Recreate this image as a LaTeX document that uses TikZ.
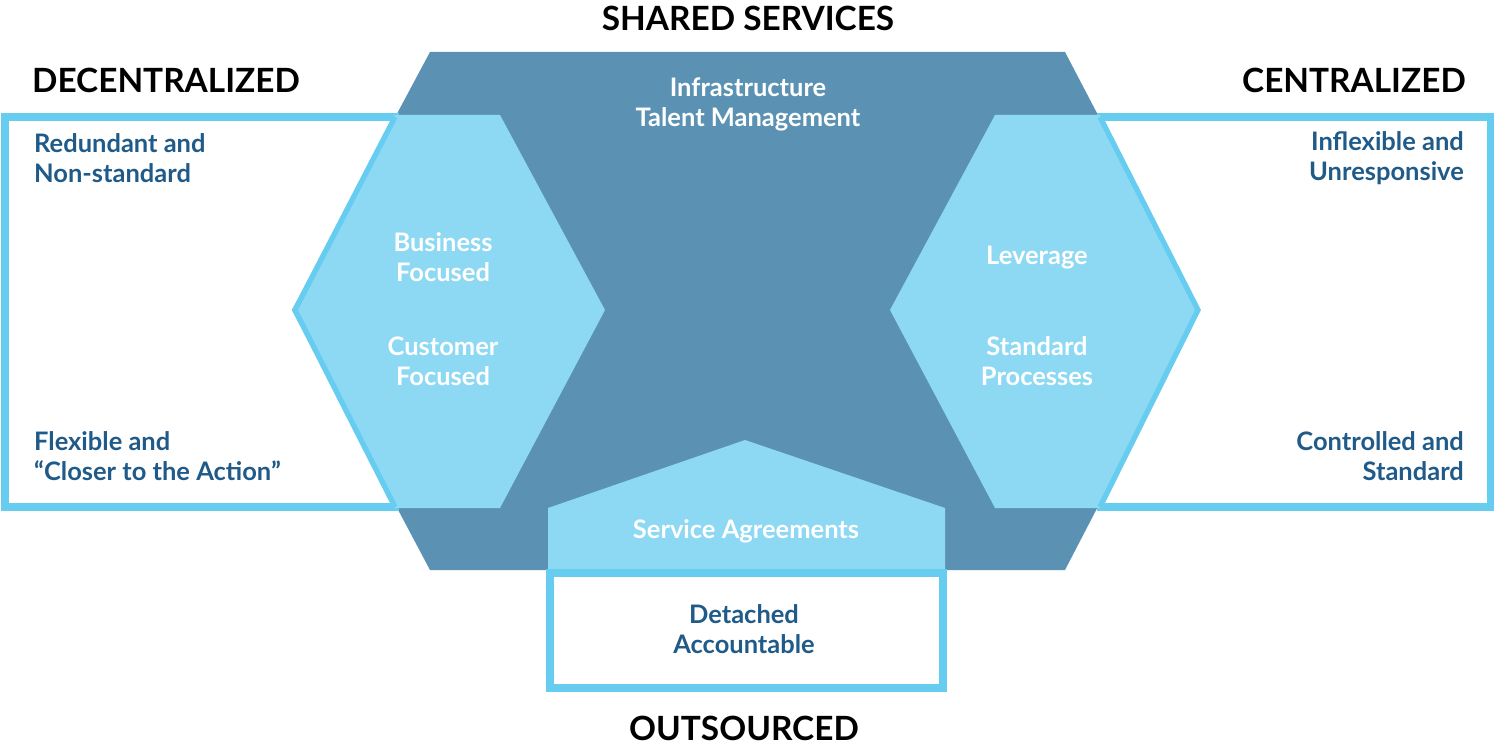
\documentclass[tikz,border=0pt]{standalone}
\usepackage{fontspec}
\setmainfont{Lato}
\definecolor{oscuro}{HTML}{5B92B3}
\definecolor{claro}{HTML}{8DD9F3}
\definecolor{borde}{HTML}{66CCF0}
\definecolor{texto}{HTML}{1F5A88}
\usetikzlibrary{positioning}
\begin{document}
\begin{tikzpicture}[x=0.02cm,y=-0.02cm,
    titulo/.style={font=\fontsize{19}{22}\selectfont\bfseries, text=black},
    blanco/.style={font=\fontsize{14.5}{17}\selectfont\bfseries, text=white, align=center},
    azul/.style={font=\fontsize{14.5}{17}\selectfont\bfseries, text=texto}]
    \useasboundingbox (0,0) rectangle (1494,753);
    % Hexagono central y cajas laterales
    \fill[oscuro] (430,52) -- (1065,52) -- (1200,310) -- (1065,570) -- (430,570) -- (292,310) -- cycle;
    \draw[borde, line width=4pt] (5,117) rectangle (395,507);
    \draw[borde, line width=4pt] (1100,117) rectangle (1490,507);
    \fill[claro] (395,115) -- (500,115) -- (605,310) -- (500,508) -- (395,508) -- (292,310) -- cycle;
    \fill[claro] (995,115) -- (1100,115) -- (1200,310) -- (1100,508) -- (995,508) -- (890,310) -- cycle;
    \draw[borde, line width=3pt] (395,117) -- (295,310) -- (395,507);
    \draw[borde, line width=3pt] (1100,117) -- (1198,310) -- (1100,507);
    % Bloque inferior
    \fill[claro] (548,508) -- (745,440) -- (945,508) -- (945,572) -- (548,572) -- cycle;
    \draw[borde, line width=4pt, fill=white] (550,573) rectangle (943,688);
    % Textos
    \node[titulo] (shared) at (748,18) {SHARED SERVICES};
    \node[titulo] (decen) at (166,80) {DECENTRALIZED};
    \node[titulo] (cen) at (1354,80) {CENTRALIZED};
    \node[titulo] (out) at (744,728) {OUTSOURCED};
    \node[blanco] (infra) at (748,104) {Infrastructure\\Talent Management};
    \node[blanco] (business) at (443,257) {Business\\Focused};
    \node[blanco] (customer) at (443,361) {Customer\\Focused};
    \node[blanco] (leverage) at (1037,258) {Leverage};
    \node[blanco] (standard) at (1037,361) {Standard\\Processes};
    \node[blanco] (agree) at (746,531) {Service Agreements};
    \node[azul, align=center] (detached) at (744,629) {Detached\\Accountable};
    \node[azul, align=left, anchor=west] (redundant) at (28,158) {Redundant and\\Non-standard};
    \node[azul, align=left, anchor=west] (flexible) at (28,456) {Flexible and\\“Closer to the Action”};
    \node[azul, align=right, anchor=east] (inflexible) at (1470,158) {Inflexible and\\Unresponsive};
    \node[azul, align=right, anchor=east] (controlled) at (1470,456) {Controlled and\\Standard};
\end{tikzpicture}
\end{document}
